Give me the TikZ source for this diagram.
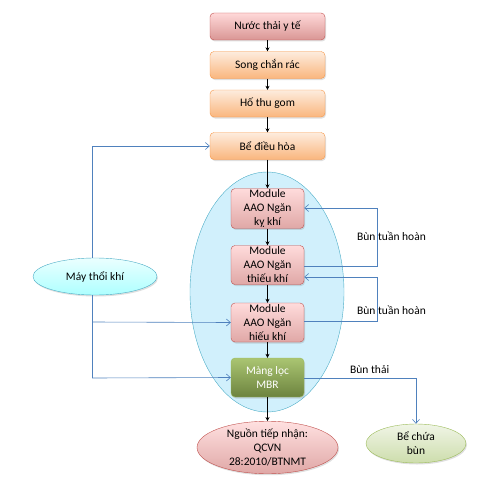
\documentclass[tikz,border=0pt]{standalone}
\usepackage{fontspec}
\setmainfont{Carlito}
\usetikzlibrary{shapes.geometric,arrows.meta,shadows}
\definecolor{redB}{HTML}{C0504D}
\definecolor{orB}{HTML}{F79646}
\definecolor{grB}{HTML}{9BBB59}
\definecolor{blB}{HTML}{4BACC6}
\definecolor{lnB}{HTML}{4F81BD}
\tikzset{
  base/.style={font=\fontsize{11.5}{14}\selectfont, align=center, inner sep=1pt},
  shad/.style={drop shadow={opacity=0.25, shadow xshift=1pt, shadow yshift=-1.5pt}},
  redbox/.style={base, shad, draw=redB, rounded corners=4pt, minimum width=115pt, minimum height=27pt, top color=red!15!white, bottom color=redB!60!white},
  orbox/.style={base, shad, draw=orB, rounded corners=4pt, minimum width=115pt, minimum height=27pt, top color=orB!18!white, bottom color=orB!70!white},
  modbox/.style={base, shad, draw=redB, rounded corners=4pt, minimum width=73pt, minimum height=39pt, top color=red!14!white, bottom color=redB!50!white},
  mbrbox/.style={base, shad, text=white, draw=grB, rounded corners=4pt, minimum width=73pt, minimum height=39pt, top color=grB!85!white, bottom color=grB!70!black},
  blell/.style={base, ellipse, draw=blB, inner sep=0pt},
  flow/.style={-{Stealth[length=4pt,width=4pt]}, black, line width=0.6pt},
  blue/.style={lnB, line width=0.6pt},
  bluea/.style={blue, -{Straight Barb[length=4pt,width=7pt]}},
  lbl/.style={base}
}
\begin{document}
\begin{tikzpicture}[x=1pt,y=-1pt]
\useasboundingbox (0,0) rectangle (486,487);
% big ellipse
\node[ellipse, draw=blB, fill=cyan!18!white, minimum width=154pt, minimum height=240pt, inner sep=0pt] (big) at (267,292) {};
% main column
\node[redbox] (n1) at (267.5,26.5) {Nước thải y tế};
\node[orbox] (n2) at (267.5,65) {Song chắn rác};
\node[orbox] (n3) at (267.5,103.5) {Hố thu gom};
\node[orbox] (n4) at (267.5,146) {Bể điều hòa};
\node[modbox] (m1) at (267.5,208.5) {Module\\AAO Ngăn\\kỵ khí};
\node[modbox] (m2) at (267.5,265) {Module\\AAO Ngăn\\thiếu khí};
\node[modbox] (m3) at (267.5,322.5) {Module\\AAO Ngăn\\hiếu khí};
\node[mbrbox] (m4) at (267.5,377.5) {Màng lọc\\MBR};
\node[blell, draw=redB, top color=red!12!white, bottom color=redB!50!white, minimum width=141pt, minimum height=49pt, shad] (out) at (267.5,447.5) {Nguồn tiếp nhận:\\QCVN\\28:2010/BTNMT};
\node[blell, draw=grB, top color=grB!15!white, bottom color=grB!50!white, minimum width=100pt, minimum height=39pt, shad] (sl) at (416,443.5) {Bể chứa\\bùn};
\node[blell, top color=cyan!8!white, bottom color=cyan!32!white, minimum width=124pt, minimum height=37pt, shad] (air) at (95,276.5) {Máy thổi khí};
% black flow
\draw[flow] (n1) -- (n2);
\draw[flow] (n2) -- (n3);
\draw[flow] (n3) -- (n4);
\draw[flow] (n4) -- (m1);
\draw[flow] (m1) -- (m2);
\draw[flow] (m2) -- (m3);
\draw[flow] (m3) -- (m4);
\draw[flow] (m4) -- (out);
% air lines
\coordinate (aT) at (92,146);
\coordinate (aB) at (92,378);
\draw[blue] (air.north -| aT) -- (aT);
\draw[bluea] (aT) -- (n4.west);
\draw[blue] (air.south -| aT) -- (aB);
\draw[bluea] (92,322) -- (m3.west);
\draw[bluea] (aB) -- (m4.west);
% recirculation
\coordinate (r1) at (377,266);
\coordinate (r1t) at (377,208);
\draw[bluea] (m2.east |- r1) -- (r1) -- (r1t) -- (m1.east |- r1t);
\coordinate (r2) at (377,321);
\coordinate (r2t) at (377,277);
\draw[bluea] (m3.east |- r2) -- (r2) -- (r2t) -- (m2.east |- r2t);
\node[lbl, anchor=west] (lb1) at (356,236) {Bùn tuần hoàn};
\node[lbl, anchor=west] (lb2) at (356,310) {Bùn tuần hoàn};
% sludge
\coordinate (s1) at (416,378);
\draw[bluea] (m4.east |- s1) -- (s1) -- (sl.north);
\node[lbl, anchor=west] (lb3) at (349,370) {Bùn thải};
\end{tikzpicture}
\end{document}
